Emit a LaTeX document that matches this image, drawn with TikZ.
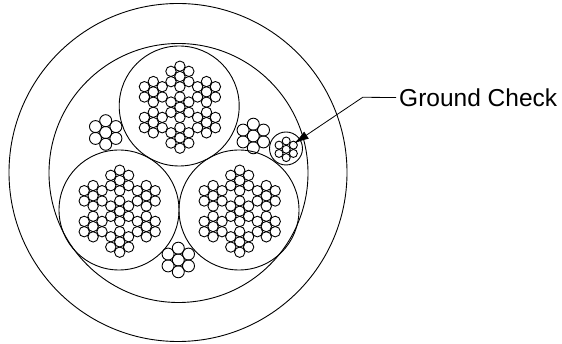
\documentclass[tikz,border=0pt]{standalone}
\usepackage{fontspec}
\setmainfont{Liberation Sans}
\usetikzlibrary{arrows.meta}
\usetikzlibrary{calc}
\tikzset{
  jacket/.style={circle, draw, line width=0.9pt, inner sep=0pt, minimum size=#1},
  strand/.style={circle, draw, line width=0.9pt, inner sep=0pt, minimum size=#1}
}
% one bundle of seven strands around (#1,#2), pitch #3, strand size #4
\newcommand{\bundle}[4]{
  \node[strand=#4] at (#1,#2) {};
  \foreach \a in {30,90,...,330}
    \node[strand=#4] at ($(#1,#2)+(\a:#3)$) {};
}
% one conductor: seven bundles
\newcommand{\conductor}[3]{
  \node[jacket=120pt] (#3) at (#1,#2) {};
  \pgfmathsetmacro{\cx}{#1+0.7}
  \pgfmathsetmacro{\cy}{#2+1.2}
  \bundle{\cx}{\cy}{10.3}{10.4pt}
  \foreach \b in {30,90,...,330} {
    \pgfmathsetmacro{\bx}{\cx+30.7*cos(\b)}
    \pgfmathsetmacro{\by}{\cy+30.7*sin(\b)}
    \bundle{\bx}{\by}{10.3}{10.4pt}
  }
}
\begin{document}
\begin{tikzpicture}[x=1pt, y=-1pt]
  \useasboundingbox (0,0) rectangle (562,344);
  \node[jacket=338pt] (outer) at (178,172.5) {};
  \node[jacket=259pt] (inner) at (178.5,173) {};
  \conductor{179.2}{106}{top}
  \conductor{119}{210}{left}
  \conductor{239}{210}{right}
  % filler bundles
  \bundle{105.7}{132.5}{11.8}{12pt}
  \bundle{253.3}{136}{11.8}{12pt}
  \bundle{178.3}{260}{11.8}{12pt}
  % ground check
  \node[jacket=33pt] (ground) at (286,148.5) {};
  \bundle{286.2}{149.3}{8.3}{8pt}
  \node[anchor=west, font=\fontsize{24.5}{28}\selectfont, inner sep=0pt] (label) at (399,97.5) {Ground Check};
  \coordinate (elbow) at (362.7,97.3);
  \coordinate (tip) at (294,143.5);
  \draw[line width=0.8pt, -{Latex[length=15pt,width=8.5pt]}] ([xshift=-3pt]label.west) -- (elbow) -- (tip);
\end{tikzpicture}
\end{document}
